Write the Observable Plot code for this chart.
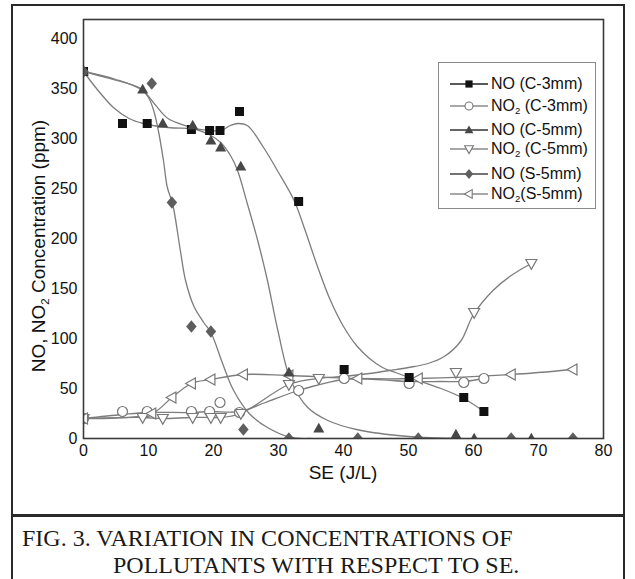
<!DOCTYPE html>
<html><head><meta charset="utf-8">
<script src="https://cdn.jsdelivr.net/npm/d3@7"></script>
<script src="https://cdn.jsdelivr.net/npm/@observablehq/plot@0.6"></script>
<style>
html,body{margin:0;padding:0;background:#fff;}
#wrap{position:relative;width:635px;height:579px;overflow:hidden;font-family:"Liberation Sans",Arial,sans-serif;color:#111;}
#frame{position:absolute;left:11px;top:4px;width:610px;height:508px;border:2px solid #2a2a2a;}
#capbox{position:absolute;left:11px;top:515px;width:610px;height:90px;border:2px solid #2a2a2a;}
#chart{position:absolute;left:0;top:0;}
.cap{position:absolute;font-family:"Liberation Serif","Times New Roman",serif;font-size:24px;line-height:28px;white-space:nowrap;color:#1a1a1a;}
#ylab{position:absolute;left:39px;top:246px;transform:translate(-50%,-50%) rotate(-90deg);font-size:19px;white-space:nowrap;color:#111;}
#xlab{position:absolute;left:343px;top:473px;transform:translate(-50%,-50%);font-size:19px;white-space:nowrap;color:#111;}
sub{font-size:0.6em;vertical-align:-0.35em;line-height:0;}
#legend{position:absolute;left:438px;top:62px;width:156px;height:145px;border:1.5px solid #8a8a8a;background:#fff;}
.lrow{position:absolute;left:0;height:20px;display:flex;align-items:center;font-size:16px;white-space:nowrap;color:#111;}
.lrow svg{margin-left:11px;margin-right:3px;}
</style></head>
<body><div id="wrap">
<div id="frame"></div>
<div id="chart"></div>
<div id="ylab">NO, NO<sub>2</sub> Concentration (ppm)</div>
<div id="xlab">SE (J/L)</div>
<div id="legend"></div>
<div id="capbox"></div>
<div class="cap" style="left:22px;top:524px;">FIG. 3. VARIATION IN CONCENTRATIONS OF</div>
<div class="cap" style="left:113px;top:551px;">POLLUTANTS WITH RESPECT TO SE.</div>
</div>
<script>
// ---- measured markers ----
const c3x   = [0, 6.0, 9.8, 16.6, 19.4, 21.0, 24.0, 33.1, 40.1, 50.1, 58.5, 61.6];
const noC3  = [367, 315, 315, 309, 308, 308, 327, 237, 69, 61, 41, 27];
const no2C3 = [20, 27, 27, 27, 27, 36, 26, 48, 60, 55, 56, 60];

const c5x   = [0, 9.1, 12.2, 16.8, 19.6, 21.1, 24.2, 31.6, 36.2, 57.3, 60.1, 68.9];
const noC5  = [367, 349, 315, 313, 298, 291, 272, 66, 10, 4, 0, 0];
const no2C5 = [20, 21, 20, 21, 21, 21, 25, 54, 60, 66, 126, 175];

const s5x   = [0, 10.5, 13.6, 16.6, 19.6, 24.6, 31.6, 42.2, 51.5, 65.8, 75.3];
const noS5  = [367, 355, 236, 112, 107, 9, 0, 0, 0, 0, 0];
const no2S5 = [20, 25, 41, 55, 59, 64, 63, 60, 60, 64, 69];

// ---- fitted curves ----
const fitC3x = [0, 2, 4.6, 7, 9.2, 13, 16.5, 21.1, 22.6, 23.8, 25.2, 27.7, 30, 32.4, 34, 36, 38, 40, 42, 44, 46, 48, 50.1, 55, 58.5, 61.6];
const fitC3y = [367, 350, 331, 320, 315, 311, 310, 308, 313, 315, 313, 291, 266, 238, 210, 172, 138, 112, 93, 80, 71, 66, 61, 50, 40, 27];
const fitC5x = [0, 5, 9.1, 11, 13, 16.5, 19.6, 21.1, 22.7, 23.7, 25.2, 26.8, 28.3, 29.9, 31.9, 34.5, 37.6, 42, 50, 58];
const fitC5y = [367, 359, 348, 334, 320, 311, 303, 296, 282, 268, 235, 198, 158, 108, 58, 31, 18, 9, 2, 0];
const fitS5x = [0, 4, 8.8, 10, 10.8, 11.6, 12.3, 12.9, 13.7, 14.9, 15.7, 17, 18.5, 19.6, 21.4, 23.1, 25.5, 28.3, 31.9, 35];
const fitS5y = [367, 360, 350, 341, 328, 305, 278, 251, 235, 188, 158, 132, 116, 106, 75, 48, 25, 11, 1, 0];
const fitN3x = [0, 6, 9.8, 16.6, 19.4, 24.0, 28, 33.1, 40.1, 45, 50.1, 55, 58.5, 61.6];
const fitN3y = [20, 24, 26, 26, 27, 27, 36, 48, 59, 59, 57, 57, 57, 60];
const fitN5x = [0, 9.1, 12.2, 16.5, 19.6, 21.1, 24.2, 31.6, 36.2, 40, 44, 47, 50, 53, 55.5, 58, 60, 63, 65.8, 68.9];
const fitN5y = [20, 21, 20, 21, 21, 21, 25, 54, 60, 62, 65, 68, 71, 75, 82, 97, 124, 148, 163, 175];

const xTicks = [0, 10, 20, 30, 40, 50, 60, 70, 80];
const yTicks = [0, 50, 100, 150, 200, 250, 300, 350, 400];

const mk = (xs, ys) => xs.map((x, i) => ({x, y: ys[i]}));

// ---- custom symbols ----
const R = s => Math.sqrt(s / Math.PI);
const SQ  = {draw(c, s){const h = R(s)*0.9; c.moveTo(-h,-h); c.lineTo(h,-h); c.lineTo(h,h); c.lineTo(-h,h); c.closePath();}};
const TUP = {draw(c, s){const r = R(s); c.moveTo(0,-r*1.15); c.lineTo(r*1.1,r*0.8); c.lineTo(-r*1.1,r*0.8); c.closePath();}};
const TDN = {draw(c, s){const r = R(s); c.moveTo(-r*1.1,-r*0.8); c.lineTo(r*1.1,-r*0.8); c.lineTo(0,r*1.15); c.closePath();}};
const TLF = {draw(c, s){const r = R(s); c.moveTo(-r*1.15,0); c.lineTo(r*0.8,-r*1.1); c.lineTo(r*0.8,r*1.1); c.closePath();}};
const DIA = {draw(c, s){const r = R(s); c.moveTo(0,-r*1.25); c.lineTo(r*1.05,0); c.lineTo(0,r*1.25); c.lineTo(-r*1.05,0); c.closePath();}};
const CIR = {draw(c, s){const r = R(s); c.moveTo(r,0); c.arc(0,0,r,0,2*Math.PI); c.closePath();}};

const lineGray = "#7d7d7d";
const ln = (xs, ys) => Plot.line(mk(xs, ys), {x:"x", y:"y", curve:"catmull-rom", stroke:lineGray, strokeWidth:1.3, clip:true});
const dt = (xs, ys, symbol, fill, stroke, r) => Plot.dot(mk(xs, ys), {x:"x", y:"y", symbol, r, fill, stroke, strokeWidth: stroke === "none" ? 0 : 1.2, clip:true});

const chart = Plot.plot({
  width: 635, height: 515,
  marginLeft: 83, marginRight: 32, marginTop: 19, marginBottom: 77,
  style: {fontSize: "16px", fontFamily: "'Liberation Sans', Arial, sans-serif", background: "transparent", color: "#111"},
  x: {domain: [0, 80], ticks: xTicks, label: null},
  y: {domain: [0, 419], ticks: yTicks, label: null},
  marks: [
    Plot.axisX({ticks: xTicks, tickSize: 0, tickPadding: 6, label: null}),
    Plot.axisY({ticks: yTicks, tickSize: 0, tickPadding: 6, label: null}),
    ln(fitN3x, fitN3y),
    ln(fitN5x, fitN5y),
    ln(s5x, no2S5),
    ln(fitC3x, fitC3y),
    ln(fitC5x, fitC5y),
    ln(fitS5x, fitS5y),
    dt(c3x, no2C3, CIR, "white", "#777", 5),
    dt(c5x, no2C5, TDN, "white", "#777", 5),
    dt(s5x, no2S5, TLF, "white", "#777", 5),
    dt(c3x, noC3, SQ, "#111", "none", 5),
    dt(c5x, noC5, TUP, "#474747", "none", 5),
    dt(s5x, noS5, DIA, "#5e5e5e", "none", 5),
    Plot.frame({stroke: "#3a3a3a", strokeWidth: 1.6})
  ]
});
document.getElementById("chart").appendChild(chart);

// ---- legend ----
const legendItems = [
  {name: "NO (C-3mm)", sub: false, sym: SQ, fill: "#111", stroke: "none", line: "#222", y: 21},
  {name: "NO|(C-3mm)", sub: true, sym: CIR, fill: "white", stroke: "#777", line: "#8a8a8a", y: 43},
  {name: "NO (C-5mm)", sub: false, sym: TUP, fill: "#474747", stroke: "none", line: "#333", y: 67},
  {name: "NO|(C-5mm)", sub: true, sym: TDN, fill: "white", stroke: "#777", line: "#8a8a8a", y: 86},
  {name: "NO (S-5mm)", sub: false, sym: DIA, fill: "#5e5e5e", stroke: "none", line: "#444", y: 111},
  {name: "NO|(S-5mm)", sub: true, sym: TLF, fill: "white", stroke: "#777", line: "#8a8a8a", y: 131, tight: true}
];
const leg = document.getElementById("legend");
legendItems.forEach(it => {
  const row = document.createElement("div");
  row.className = "lrow";
  row.style.top = (it.y - 10) + "px";
  const svg = d3.create("svg").attr("width", 38).attr("height", 16);
  svg.append("line").attr("x1", 0).attr("x2", 38).attr("y1", 8).attr("y2", 8).attr("stroke", it.line).attr("stroke-width", 1.3);
  const p = d3.path();
  it.sym.draw(p, Math.PI * 16);
  svg.append("path").attr("d", p.toString()).attr("transform", "translate(19,8)")
    .attr("fill", it.fill).attr("stroke", it.stroke === "none" ? null : it.stroke).attr("stroke-width", 1.1);
  row.appendChild(svg.node());
  const span = document.createElement("span");
  if (it.sub) {
    const parts = it.name.split("|");
    span.innerHTML = parts[0] + "<sub>2</sub>" + (it.tight ? "" : " ") + parts[1];
  } else {
    span.textContent = it.name;
  }
  row.appendChild(span);
  leg.appendChild(row);
});
</script>
</body></html>
